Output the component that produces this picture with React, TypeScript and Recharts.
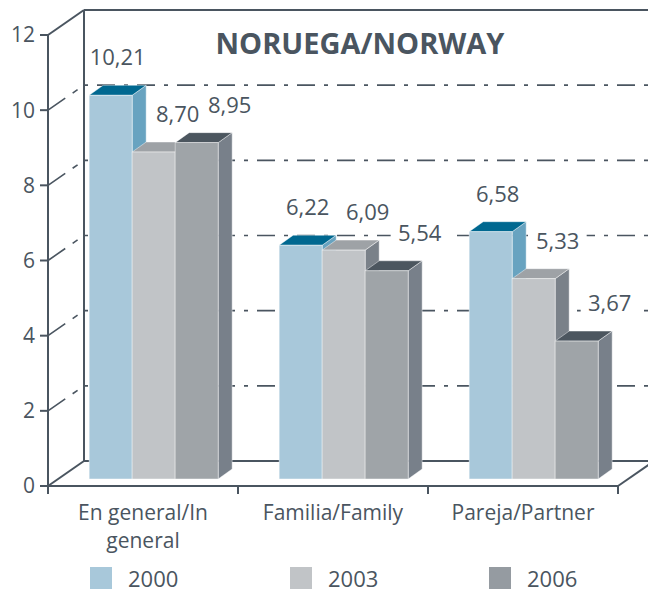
import { BarChart, Bar, XAxis, YAxis, CartesianGrid, LabelList } from "recharts";

const categories = ["En general/In general", "Familia/Family", "Pareja/Partner"];
const years = ["2000", "2003", "2006"];
const v2000 = [10.21, 6.22, 6.58];
const v2003 = [8.7, 6.09, 5.33];
const v2006 = [8.95, 5.54, 3.67];
const yTicks = [0, 2, 4, 6, 8, 10, 12];

const data = categories.map((cat, i) => ({
  cat,
  y2000: v2000[i],
  y2003: v2003[i],
  y2006: v2006[i],
}));

const FONT = "'Open Sans', sans-serif";
const INK = "#4a5560";
// back wall depth and bar placement inside the "room"
const DX = 36;
const DY = -25;
const BX = 10;
const BY = -7;
const BDX = 14;
const BDY = -10;

const SERIES = [
  { key: "y2000", front: "#a8c8da", top: "#006890", side: "#68a3c0", legend: "#a8c8da", labelDx: 7 },
  { key: "y2003", front: "#c1c4c7", top: "#9ea2a6", side: "#7a8189", legend: "#c1c4c7", labelDx: 24 },
  { key: "y2006", front: "#9fa4a8", top: "#4c565f", side: "#78808a", legend: "#959ba1", labelDx: 33 },
];

function fmt(v: number) {
  return v.toFixed(2).replace(".", ",");
}

// greedy wrap, roughly 14 characters a line
function wrap(label: string) {
  const words = label.split(" ");
  const lines: string[] = [];
  let cur = "";
  words.forEach((w) => {
    const next = cur ? cur + " " + w : w;
    if (next.length > 15 && cur) {
      lines.push(cur);
      cur = w;
    } else cur = next;
  });
  if (cur) lines.push(cur);
  return lines;
}

function makeShape(s: typeof SERIES[number]) {
  return (props: any) => {
    const { x, y, width, height } = props;
    if (height == null || width == null) return <g />;
    const fx = x + BX;
    const fy = y + BY;
    const edge = "rgba(255,255,255,0.55)";
    return (
      <g>
        <polygon
          points={`${fx + width},${fy} ${fx + width + BDX},${fy + BDY} ${fx + width + BDX},${fy + height + BDY} ${fx + width},${fy + height}`}
          fill={s.side}
          stroke={edge}
          strokeWidth={0.8}
        />
        <polygon
          points={`${fx},${fy} ${fx + BDX},${fy + BDY} ${fx + width + BDX},${fy + BDY} ${fx + width},${fy}`}
          fill={s.top}
          stroke={edge}
          strokeWidth={0.8}
        />
        <rect x={fx} y={fy} width={width} height={height} fill={s.front} stroke={edge} strokeWidth={0.8} />
      </g>
    );
  };
}

function makeLabel(s: typeof SERIES[number]) {
  return (props: any) => {
    const vb = props.viewBox || {};
    const x = props.x ?? vb.x;
    const y = props.y ?? vb.y;
    const width = props.width ?? vb.width;
    const value = Number(props.value);
    const cx = x + BX + width / 2 + s.labelDx;
    const cy = y + BY - 39;
    return (
      <g>
        <rect x={cx - 29} y={cy - 12} width={58} height={24} fill="#fff" />
        <text x={cx} y={cy} textAnchor="middle" dominantBaseline="central" fontSize={22} fontFamily={FONT} fill={INK}>
          {fmt(value)}
        </text>
      </g>
    );
  };
}

function WallLine(props: any) {
  const { x1, y1, x2, y2 } = props;
  const top = props.y ?? 35;
  const bottom = props.height != null ? top + props.height : 486;
  const isTop = Math.abs(y1 - top) < 0.5;
  const isBottom = Math.abs(y1 - bottom) < 0.5;
  const solid = isTop || isBottom;
  const ticks: number[] = [];
  for (let i = 0; i <= categories.length; i++) ticks.push(x1 + ((x2 - x1) * i) / categories.length);
  return (
    <g>
      <line
        x1={x1}
        y1={y1}
        x2={x1 + DX}
        y2={y1 + DY}
        stroke={INK}
        strokeWidth={solid ? 2 : 1.6}
        strokeDasharray={solid ? undefined : "21 9 6 9"}
      />
      <line
        x1={x1 + DX}
        y1={y1 + DY}
        x2={x2 + DX}
        y2={y2 + DY}
        stroke={INK}
        strokeWidth={solid ? 2 : 1.6}
        strokeDasharray={solid ? undefined : "4 9 18 9"}
      />
      {isTop && <line x1={x1 + DX} y1={y1 + DY} x2={x1 + DX} y2={bottom + DY} stroke={INK} strokeWidth={2} />}
      {isBottom && (
        <g>
          <line x1={x2} y1={y1} x2={x2 + DX} y2={y1 + DY} stroke={INK} strokeWidth={2} />
          {ticks.map((t) => (
            <line key={t} x1={t} y1={y1} x2={t} y2={y1 + 8} stroke={INK} strokeWidth={2} />
          ))}
        </g>
      )}
    </g>
  );
}

function CatTick(props: any) {
  const { x, y, payload } = props;
  const lines = wrap(String(payload.value));
  return (
    <text x={x} y={y + 34} textAnchor="middle" fontSize={21} fontFamily={FONT} fill={INK}>
      {lines.map((l, i) => (
        <tspan key={i} x={x} dy={i === 0 ? 0 : 28}>
          {l}
        </tspan>
      ))}
    </text>
  );
}

export default function App() {
  return (
    <div style={{ position: "absolute", left: 0, top: 0, width: 648, height: 593, background: "#fff", fontFamily: FONT }}>
      <BarChart
        width={648}
        height={593}
        data={data}
        margin={{ top: 35, right: 30, left: 0, bottom: 0 }}
        barCategoryGap="16.4%"
        barGap={0}
      >
        <CartesianGrid vertical={false} horizontal={(p: any) => <WallLine key={p.key ?? p.index} {...p} />} />
        <XAxis
          dataKey="cat"
          height={107}
          tickLine={false}
          tickSize={0}
          tickMargin={0}
          axisLine={{ stroke: INK, strokeWidth: 2 }}
          tick={<CatTick />}
          interval={0}
        />
        <YAxis
          width={48}
          domain={[0, 12]}
          ticks={yTicks}
          interval={0}
          tickSize={8}
          tickMargin={5}
          axisLine={{ stroke: INK, strokeWidth: 2 }}
          tickLine={{ stroke: INK, strokeWidth: 2 }}
          tick={{ fill: INK, fontSize: 21, fontFamily: FONT }}
        />
        {SERIES.map((s) => (
          <Bar key={s.key} dataKey={s.key} shape={makeShape(s)} isAnimationActive={false}>
            <LabelList dataKey={s.key} content={makeLabel(s)} />
          </Bar>
        ))}
      </BarChart>
      <div
        style={{
          position: "absolute",
          left: 180,
          top: 24,
          width: 360,
          textAlign: "center",
          fontSize: 29,
          fontWeight: 700,
          color: INK,
          lineHeight: "38px",
        }}
      >
        NORUEGA/NORWAY
      </div>
      {years.map((yr, i) => (
        <div key={yr} style={{ position: "absolute", left: [90, 290, 489][i], top: 567, height: 22, display: "flex", alignItems: "center" }}>
          <div style={{ width: 22, height: 22, background: SERIES[i].legend }} />
          <span style={{ marginLeft: 16, fontSize: 22, color: INK, lineHeight: "22px" }}>{yr}</span>
        </div>
      ))}
    </div>
  );
}
